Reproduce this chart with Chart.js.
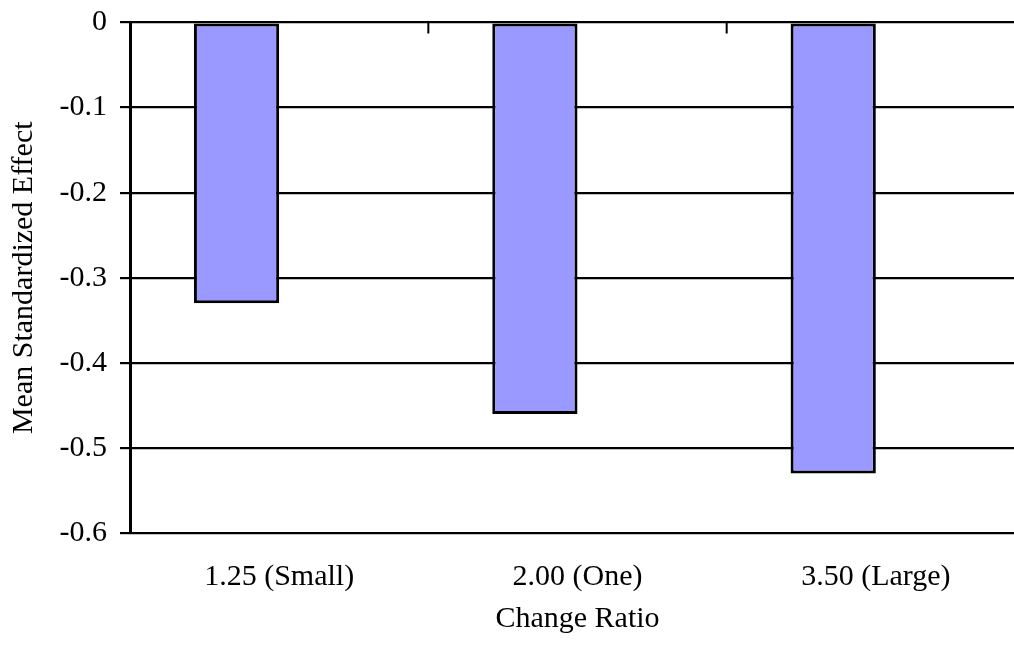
<!DOCTYPE html>
<html>
<head>
<meta charset="utf-8">
<script src="https://cdn.jsdelivr.net/npm/chart.js@4/dist/chart.umd.min.js"></script>
<style>
  html, body { margin: 0; padding: 0; background: #fff; overflow: hidden; }
  #wrap { width: 1030px; height: 649px; }
</style>
</head>
<body>
<div id="wrap"><canvas id="c" width="1030" height="649"></canvas></div>
<script>
const categories = ['1.25 (Small)', '2.00 (One)', '3.50 (Large)'];
const effectValues = [-0.33, -0.46, -0.53];
const emptySeries = [null, null, null];
const yTickValues = [0, -0.1, -0.2, -0.3, -0.4, -0.5, -0.6];
const yTickLabels = ['0', '-0.1', '-0.2', '-0.3', '-0.4', '-0.5', '-0.6'];
const xTitle = 'Change Ratio';
const yTitle = 'Mean Standardized Effect';

const FONT = 'Liberation Serif, Times New Roman, serif';

const topTicks = {
  id: 'topTicks',
  afterDatasetsDraw(chart) {
    const x = chart.scales.x, a = chart.chartArea, ctx = chart.ctx;
    ctx.save();
    ctx.strokeStyle = '#000';
    ctx.lineWidth = 2;
    for (let i = 0; i < categories.length - 1; i++) {
      const px = (x.getPixelForTick(i) + x.getPixelForTick(i + 1)) / 2;
      ctx.beginPath();
      ctx.moveTo(px, a.top);
      ctx.lineTo(px, a.top + 11);
      ctx.stroke();
    }
    ctx.restore();
  }
};

new Chart(document.getElementById('c'), {
  type: 'bar',
  data: {
    labels: categories,
    datasets: [
      { data: effectValues, backgroundColor: '#9999FF', borderColor: '#000', borderWidth: 3, borderSkipped: false },
      { data: emptySeries, backgroundColor: '#993366' }
    ]
  },
  options: {
    responsive: false,
    animation: false,
    events: [],
    categoryPercentage: 2 / 3.5,
    barPercentage: 1,
    layout: { padding: { left: 0, top: 22.5, right: 5, bottom: 0 } },
    plugins: { legend: { display: false }, tooltip: { enabled: false } },
    scales: {
      x: {
        position: 'bottom',
        grid: { display: false, drawTicks: false },
        border: { display: false },
        ticks: { color: '#000', font: { family: FONT, size: 30 }, padding: 26, maxRotation: 0 },
        title: { display: true, text: xTitle, color: '#000', font: { family: FONT, size: 30 }, padding: { top: 0, bottom: 12 } },
        afterFit(s) { s.height = 116; s.paddingLeft = 0; s.paddingRight = 0; }
      },
      y: {
        min: -0.6, max: 0,
        afterBuildTicks(s) { s.ticks = yTickValues.map(v => ({ value: v })); },
        grid: { color: '#000', lineWidth: 2.2, tickLength: 10, tickColor: '#000' },
        border: { color: '#000', width: 3 },
        ticks: {
          color: '#000', font: { family: FONT, size: 30 }, padding: 13,
          callback: (v) => { const i = yTickValues.findIndex(t => Math.abs(t - v) < 1e-9); return i >= 0 ? yTickLabels[i] : ''; }
        },
        title: { display: true, text: yTitle, color: '#000', font: { family: FONT, size: 30 }, padding: { top: 6.5, bottom: 0 } },
        afterFit(s) { s.width = 130; s.paddingTop = 0; s.paddingBottom = 0; }
      }
    }
  },
  plugins: [topTicks]
});
</script>
</body>
</html>
